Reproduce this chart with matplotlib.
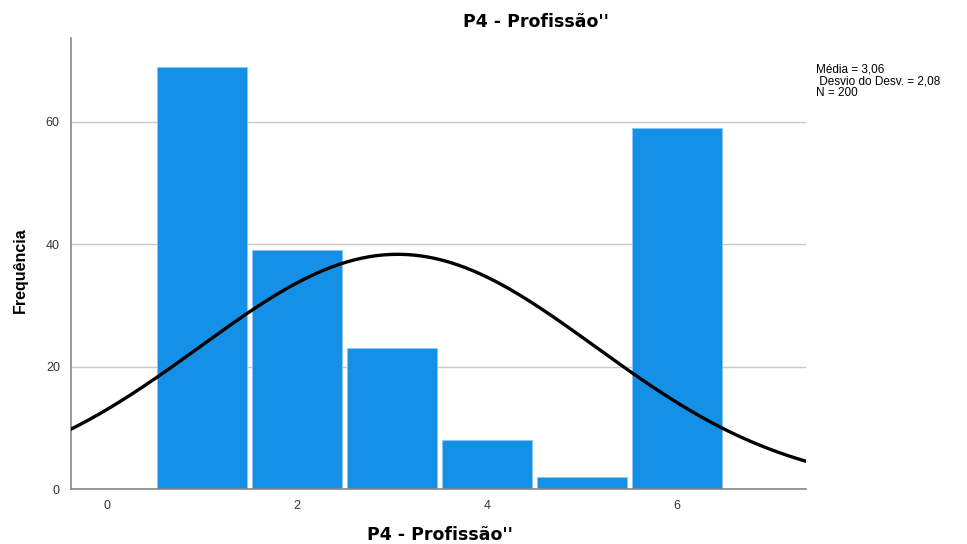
import numpy as np
import matplotlib.pyplot as plt

plt.rcParams['font.family'] = ['Liberation Sans', 'DejaVu Sans']

# frequencies per category of P4 - Profissão
categorias = [1, 2, 3, 4, 5, 6]
frequencias = [69, 39, 23, 8, 2, 59]

media = 3.06
desvio = 2.08
n_total = 200

fig = plt.figure(figsize=(9.67, 5.44), dpi=100)
ax = fig.add_axes([0.0734, 0.1011, 0.7601, 0.8289])

ax.bar(categorias, frequencias, width=0.94, color='#1490e6',
       edgecolor='#8cc8f2', linewidth=0.6, zorder=2)

# normal curve from the reported mean / std dev (bin width 1)
xs = np.linspace(-0.4, 7.4, 300)
ys = n_total / (desvio * np.sqrt(2 * np.pi)) * np.exp(-0.5 * ((xs - media) / desvio) ** 2)
ax.plot(xs, ys, color='black', linewidth=2.4, zorder=3)

ax.set_xlim(-0.379, 7.358)
ax.set_ylim(0, 73.7)
ax.set_xticks([0, 2, 4, 6])
ax.set_yticks([0, 20, 40, 60])
ax.tick_params(length=0, labelsize=9, colors='#333333', pad=8)
ax.yaxis.grid(True, color='#c8c8c8', linewidth=1)
ax.set_axisbelow(True)
for s in ['top', 'right']:
    ax.spines[s].set_visible(False)
for s in ['left', 'bottom']:
    ax.spines[s].set_color('#888888')
    ax.spines[s].set_linewidth(1.2)

fig.text(440 / 967, 1 - 535 / 544, "P4 - Profissão''", ha='center', va='center',
         fontsize=12.5, fontweight='bold', family='DejaVu Sans')
fig.text(20 / 967, 1 - 270 / 544, "Frequência", ha='center', va='center',
         rotation=90, fontsize=11.5, fontweight='bold')
fig.text(536 / 967, 1 - 22 / 544, "P4 - Profissão''", ha='center', va='center',
         fontsize=12.5, fontweight='bold', family='DejaVu Sans')
fig.text(816 / 967, 1 - 81 / 544, "Média = 3,06\n Desvio do Desv. = 2,08\nN = 200",
         ha='left', va='center', fontsize=8.5, linespacing=0.95)

fig.savefig('out.png', dpi=100)
